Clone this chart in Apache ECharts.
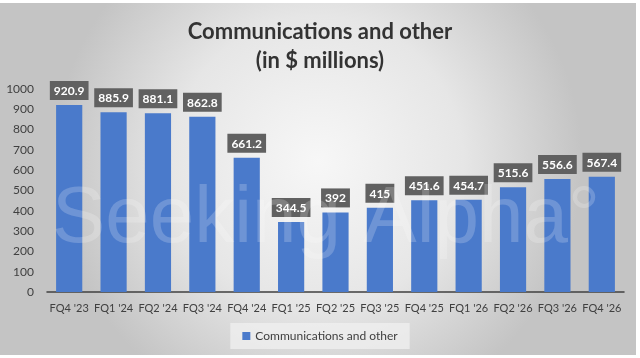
<!DOCTYPE html>
<html>
<head>
<meta charset="utf-8">
<script src="https://cdn.jsdelivr.net/npm/echarts@6/dist/echarts.min.js"></script>
<style>
  html, body { margin: 0; padding: 0; background: #ffffff; }
  #chart { width: 640px; height: 358px; }
</style>
</head>
<body>
<div id="chart"></div>
<script>
// Quarterly revenue, communications and other segment ($ millions)
const quarters = ["FQ4 '23", "FQ1 '24", "FQ2 '24", "FQ3 '24", "FQ4 '24", "FQ1 '25", "FQ2 '25",
                  "FQ3 '25", "FQ4 '25", "FQ1 '26", "FQ2 '26", "FQ3 '26", "FQ4 '26"];
const revenue = [920.9, 885.9, 881.1, 862.8, 661.2, 344.5, 392, 415, 451.6, 454.7, 515.6, 556.6, 567.4];
const seriesName = 'Communications and other';
const titleLines = ['Communications and other', '(in $ millions)'];

const FONT = 'Lato, "Liberation Sans", sans-serif';

const chart = echarts.init(document.getElementById('chart'), null, { renderer: 'canvas' });

chart.setOption({
  animation: false,
  backgroundColor: '#ffffff',
  title: {
    text: titleLines.join('\n'),
    left: 'center',
    top: 12,
    textStyle: {
      fontFamily: FONT,
      fontWeight: 'bold',
      fontSize: 22,
      lineHeight: 29,
      color: '#333333'
    }
  },
  graphic: [
    {
      type: 'rect',
      z: -100,
      silent: true,
      shape: { x: 0, y: 3, width: 636, height: 352 },
      style: {
        fill: {
          type: 'radial', x: 0.5, y: 0.45, r: 0.75,
          colorStops: [
            { offset: 0, color: '#f7f7f7' },
            { offset: 0.55, color: '#e6e6e6' },
            { offset: 1, color: '#c4c4c4' }
          ]
        }
      }
    },
    {
      type: 'text',
      z: 100,
      silent: true,
      left: 52,
      top: 180,
      style: {
        text: 'Seeking Alpha\u00b0',
        fontFamily: '"Liberation Sans", sans-serif',
        fontSize: 80,
        fill: 'rgba(255,255,255,0.2)'
      }
    }
  ],
  legend: {
    bottom: 9,
    left: 'center',
    data: [seriesName],
    icon: 'rect',
    itemWidth: 8,
    itemHeight: 8,
    itemGap: 4,
    padding: [7, 12, 7, 12],
    backgroundColor: 'rgba(240,240,240,0.75)',
    textStyle: { fontFamily: FONT, fontSize: 12, color: '#404040' }
  },
  grid: { left: 47, right: 16, top: 89, bottom: 66, containLabel: false },
  xAxis: {
    type: 'category',
    data: quarters,
    axisLine: { lineStyle: { color: '#404040', width: 1.5 } },
    axisTick: { show: false },
    axisLabel: { fontFamily: FONT, fontSize: 11, color: '#404040', margin: 11, interval: 0 }
  },
  yAxis: {
    type: 'value',
    min: 0,
    max: 1000,
    interval: 100,
    splitLine: { show: false },
    axisLine: { show: false },
    axisTick: { show: false },
    axisLabel: {
      fontFamily: FONT, fontSize: 12, color: '#404040', margin: 13,
      formatter: v => String(v)
    }
  },
  series: [{
    name: seriesName,
    type: 'bar',
    data: revenue,
    barCategoryGap: '41%',
    itemStyle: { color: '#4a7acb' },
    label: {
      show: true,
      position: 'top',
      distance: 5,
      fontFamily: FONT,
      fontWeight: 'bold',
      fontSize: 12,
      color: '#ffffff',
      backgroundColor: '#616161',
      padding: [4, 4, 3, 4],
      formatter: p => String(p.value)
    }
  }]
});
</script>
</body>
</html>
